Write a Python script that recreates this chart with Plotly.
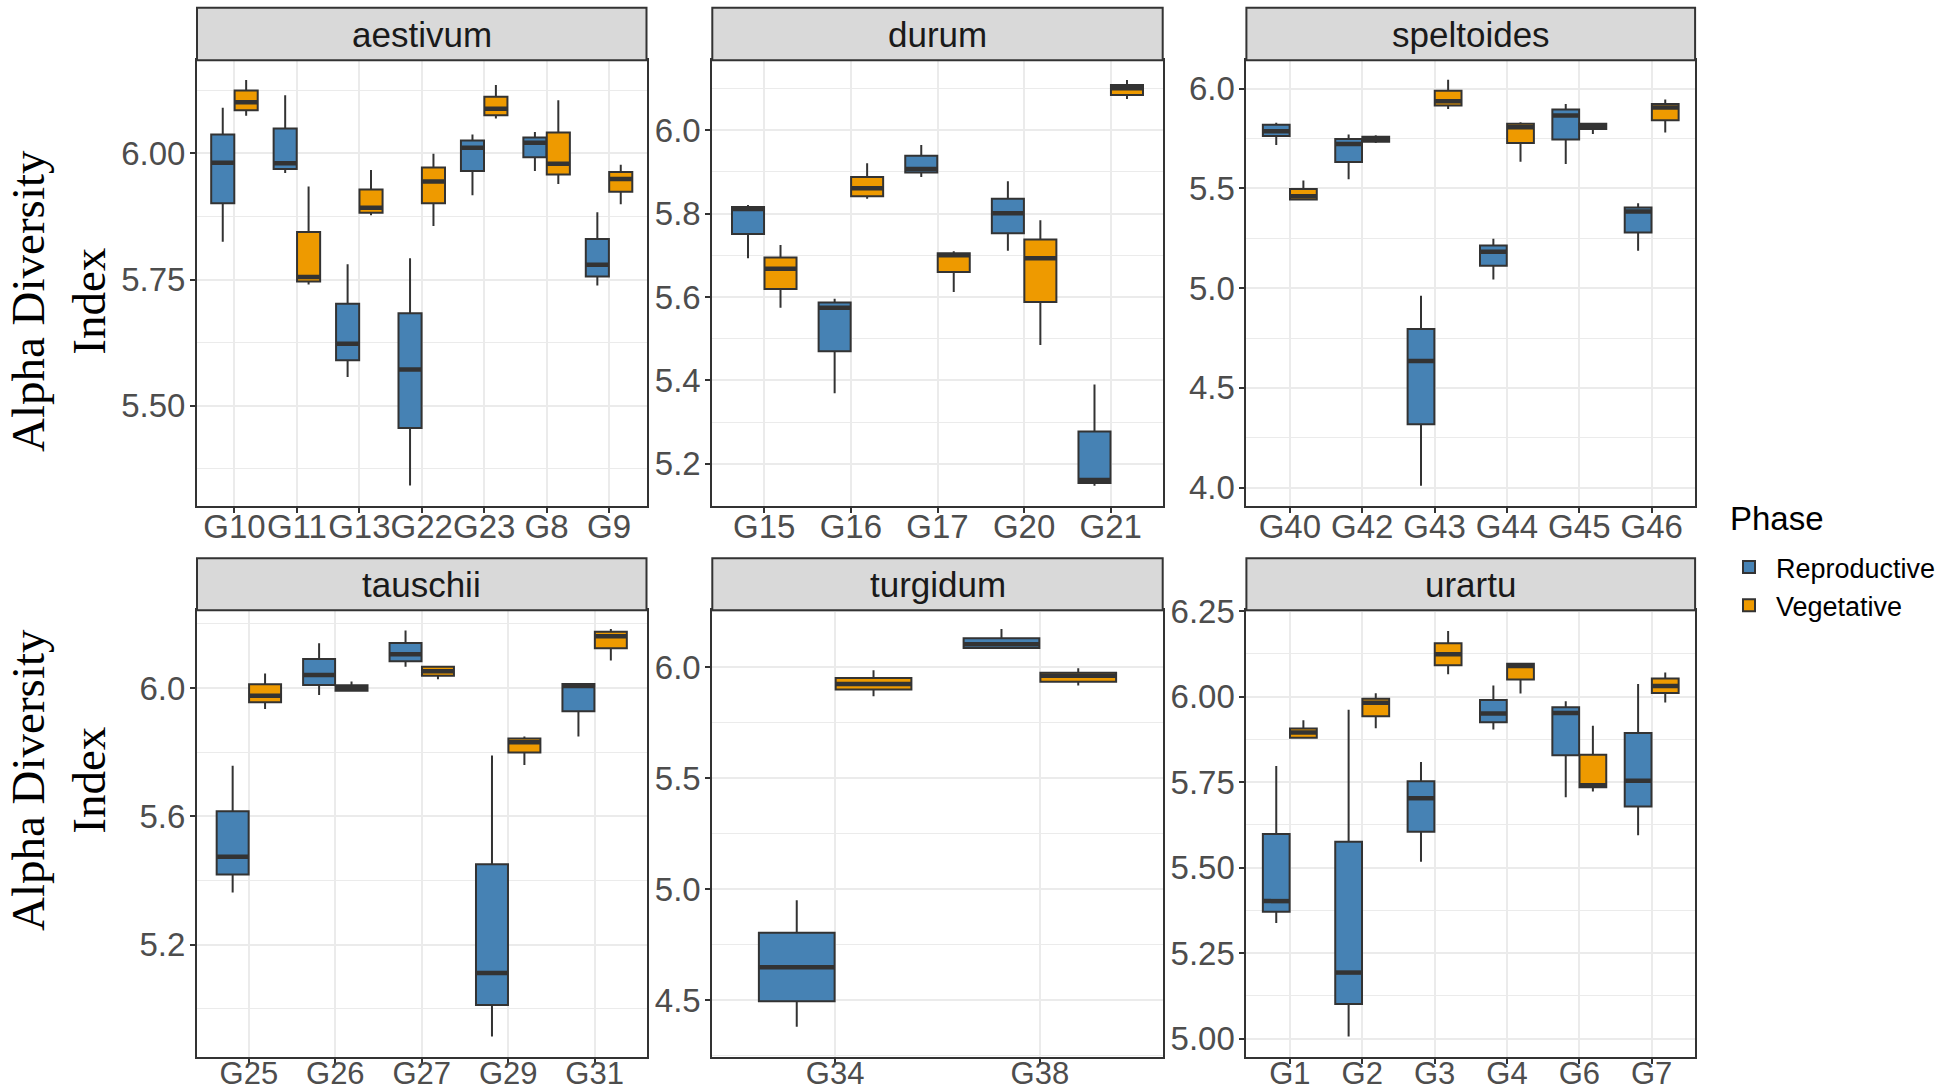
import plotly.graph_objects as go

# ---------------- data (lower whisker, Q1, median, Q3, upper whisker) ----------------
aest_groups = ["G10", "G11", "G13", "G22", "G23", "G8", "G9"]
aest_rep = [[5.825, 5.901, 5.981, 6.037, 6.090],
            [5.961, 5.969, 5.980, 6.049, 6.115],
            [5.557, 5.590, 5.623, 5.702, 5.780],
            [5.342, 5.456, 5.572, 5.683, 5.792],
            [5.917, 5.965, 6.011, 6.025, 6.037],
            [5.965, 5.992, 6.021, 6.031, 6.042],
            [5.738, 5.756, 5.779, 5.830, 5.883]]
aest_veg = [[6.074, 6.085, 6.101, 6.124, 6.145],
            [5.740, 5.746, 5.755, 5.844, 5.934],
            [5.877, 5.882, 5.892, 5.928, 5.967],
            [5.856, 5.901, 5.944, 5.972, 5.999],
            [6.069, 6.075, 6.088, 6.112, 6.135],
            [5.939, 5.958, 5.979, 6.041, 6.105],
            [5.899, 5.924, 5.949, 5.963, 5.977]]

durum_groups = ["G15", "G16", "G17", "G20", "G21"]
durum_rep = [[5.693, 5.751, 5.811, 5.816, 5.821],
             [5.369, 5.470, 5.574, 5.587, 5.596],
             [5.888, 5.899, 5.907, 5.939, 5.965],
             [5.711, 5.753, 5.801, 5.836, 5.878],
             [5.147, 5.154, 5.161, 5.277, 5.390]]
durum_veg = [[5.574, 5.619, 5.668, 5.695, 5.725],
             [5.836, 5.842, 5.861, 5.888, 5.921],
             [5.612, 5.660, 5.700, 5.705, 5.710],
             [5.485, 5.588, 5.693, 5.738, 5.784],
             [6.075, 6.085, 6.101, 6.109, 6.121]]

spelt_groups = ["G40", "G42", "G43", "G44", "G45", "G46"]
spelt_rep = [[5.717, 5.763, 5.787, 5.819, 5.829],
             [5.546, 5.632, 5.722, 5.747, 5.770],
             [4.009, 4.318, 4.635, 4.795, 4.962],
             [5.043, 5.112, 5.182, 5.214, 5.247],
             [5.622, 5.745, 5.865, 5.896, 5.923],
             [5.187, 5.279, 5.384, 5.404, 5.425]]
spelt_veg = [[5.442, 5.444, 5.460, 5.497, 5.539],
             [5.727, 5.734, 5.748, 5.759, 5.766],
             [5.898, 5.916, 5.937, 5.989, 6.044],
             [5.634, 5.727, 5.807, 5.824, 5.831],
             [5.773, 5.798, 5.812, 5.824, 5.826],
             [5.780, 5.842, 5.905, 5.923, 5.945]]

tau_groups = ["G25", "G26", "G27", "G29", "G31"]
tau_rep = [[5.363, 5.419, 5.474, 5.616, 5.758],
           [5.979, 6.010, 6.041, 6.091, 6.140],
           [6.067, 6.084, 6.106, 6.141, 6.180],
           [4.914, 5.012, 5.112, 5.451, 5.790],
           [5.849, 5.928, 6.007, 6.013, 6.014]]
tau_veg = [[5.935, 5.956, 5.976, 6.012, 6.046],
           [5.989, 5.992, 6.001, 6.009, 6.021],
           [6.028, 6.039, 6.053, 6.067, 6.070],
           [5.760, 5.799, 5.831, 5.843, 5.849],
           [6.086, 6.124, 6.162, 6.176, 6.184]]

turg_groups = ["G34", "G38"]
turg_rep = [[4.379, 4.494, 4.648, 4.803, 4.950],
            [6.084, 6.087, 6.103, 6.131, 6.172]]
turg_veg = [[5.869, 5.899, 5.924, 5.951, 5.986],
            [5.918, 5.934, 5.961, 5.975, 5.995]]

urar_groups = ["G1", "G2", "G3", "G4", "G6", "G7"]
urar_rep = [[5.338, 5.371, 5.402, 5.598, 5.797],
            [5.006, 5.101, 5.193, 5.576, 5.962],
            [5.517, 5.605, 5.703, 5.753, 5.809],
            [5.904, 5.925, 5.951, 5.990, 6.033],
            [5.706, 5.829, 5.952, 5.969, 5.987],
            [5.595, 5.679, 5.754, 5.894, 6.037]]
urar_veg = [[5.879, 5.880, 5.895, 5.907, 5.931],
            [5.908, 5.943, 5.982, 5.994, 6.010],
            [6.066, 6.092, 6.124, 6.156, 6.192],
            [6.009, 6.050, 6.090, 6.096, 6.098],
            [5.723, 5.735, 5.741, 5.830, 5.915],
            [5.983, 6.011, 6.031, 6.053, 6.071]]

species = ["aestivum", "durum", "speltoides", "tauschii", "turgidum", "urartu"]
phases = ["Reproductive", "Vegetative"]

# ---------------- styling ----------------
W, H = 1947, 1092
BLUE = "#4682B4"
ORANGE = "#EE9A00"
EDGE = "#333333"
GRID = "#EBEBEB"
TICKC = "#4D4D4D"
BOXW = 0.37
OFF = 0.1875

def fx(px):
    return px / W

def fy(py):
    return 1 - py / H

cols = [(197, 646.5), (712.3, 1162.7), (1246.4, 1695.1)]
rows = [dict(plot=(60.3, 505.8), strip=(7.7, 60.3), title_y=301, xstand=-14, xfs=33),
        dict(plot=(610.2, 1057.0), strip=(558.3, 610.2), title_y=780, xstand=-17, xfs=31)]

panels = [
    dict(groups=aest_groups, rep=aest_rep, veg=aest_veg, yr=[5.302, 6.184], t0=5.5, dt=0.25, fmt=".2f"),
    dict(groups=durum_groups, rep=durum_rep, veg=durum_veg, yr=[5.099, 6.168], t0=5.2, dt=0.2, fmt=".1f"),
    dict(groups=spelt_groups, rep=spelt_rep, veg=spelt_veg, yr=[3.909, 6.142], t0=4.0, dt=0.5, fmt=".1f"),
    dict(groups=tau_groups, rep=tau_rep, veg=tau_veg, yr=[4.850, 6.243], t0=5.2, dt=0.4, fmt=".1f"),
    dict(groups=turg_groups, rep=turg_rep, veg=turg_veg, yr=[4.243, 6.257], t0=4.5, dt=0.5, fmt=".1f"),
    dict(groups=urar_groups, rep=urar_rep, veg=urar_veg, yr=[4.946, 6.253], t0=5.0, dt=0.25, fmt=".2f"),
]

fig = go.Figure()
layout = dict(width=W, height=H, margin=dict(l=0, r=0, t=0, b=0, pad=0),
              paper_bgcolor="white", plot_bgcolor="white",
              font=dict(family="Liberation Sans, Arial", color=TICKC),
              showlegend=True)
shapes, annotations = [], []

for k, p in enumerate(panels):
    r, c = divmod(k, 3)
    sfx = "" if k == 0 else str(k + 1)
    xa, ya = "x" + sfx, "y" + sfx
    n = len(p["groups"])
    pos = list(range(1, n + 1))
    for phase, data, color, off in [(phases[0], p["rep"], BLUE, -OFF),
                                    (phases[1], p["veg"], ORANGE, OFF)]:
        xs = [i + off for i in pos]
        lo = [d[0] for d in data]
        q1 = [d[1] for d in data]
        med = [d[2] for d in data]
        q3 = [d[3] for d in data]
        hi = [d[4] for d in data]
        fig.add_trace(go.Box(
            x=xs, lowerfence=lo, q1=q1, median=med, q3=q3, upperfence=hi,
            width=BOXW, fillcolor=color, line=dict(color=EDGE, width=2),
            whiskerwidth=0, boxpoints=False, name=phase, legendgroup=phase,
            showlegend=(k == 0), xaxis=xa, yaxis=ya, hoverinfo="y"))
        mx, my = [], []
        for x, m in zip(xs, med):
            mx += [x - BOXW / 2, x + BOXW / 2, None]
            my += [m, m, None]
        fig.add_trace(go.Scatter(
            x=mx, y=my, mode="lines", line=dict(color=EDGE, width=4.5),
            showlegend=False, hoverinfo="skip", legendgroup=phase,
            xaxis=xa, yaxis=ya))

    x0, x1 = cols[c]
    py0, py1 = rows[r]["plot"]
    sy0, sy1 = rows[r]["strip"]
    axis_common = dict(showline=True, linecolor=EDGE, linewidth=2, mirror=True,
                       ticks="outside", ticklen=5, tickwidth=2, tickcolor=EDGE,
                       showgrid=True, gridcolor=GRID, gridwidth=2,
                       zeroline=False, fixedrange=True, automargin=False)
    layout["xaxis" + sfx] = dict(domain=[fx(x0), fx(x1)], anchor=ya,
                                 range=[0.4, n + 0.6], tickmode="array",
                                 tickvals=pos, ticktext=p["groups"],
                                 tickangle=0, ticklabelstandoff=rows[r]["xstand"],
                                 tickfont=dict(size=rows[r]["xfs"], color=TICKC,
                                               family="Liberation Sans, Arial"),
                                 **axis_common)
    layout["yaxis" + sfx] = dict(domain=[fy(py1), fy(py0)], anchor=xa,
                                 range=p["yr"], tickmode="linear",
                                 tick0=p["t0"], dtick=p["dt"],
                                 tickformat=p["fmt"], ticklabelstandoff=-2,
                                 tickfont=dict(size=33, color=TICKC,
                                               family="Liberation Sans, Arial"),
                                 minor=dict(tickmode="linear", tick0=p["t0"],
                                            dtick=p["dt"] / 2, showgrid=True,
                                            gridcolor=GRID, gridwidth=1,
                                            ticks=""),
                                 **axis_common)
    shapes.append(dict(type="rect", xref="paper", yref="paper",
                       x0=fx(x0), x1=fx(x1), y0=fy(sy1), y1=fy(sy0),
                       fillcolor="#D9D9D9", line=dict(color=EDGE, width=2)))
    annotations.append(dict(text=species[k], xref="paper", yref="paper",
                            x=fx((x0 + x1) / 2), y=fy((sy0 + sy1) / 2),
                            xanchor="center", yanchor="middle", showarrow=False,
                            font=dict(size=35, color="#1A1A1A",
                                      family="Liberation Sans, Arial")))

for rw in rows:
    annotations.append(dict(text="Alpha Diversity<br>Index", xref="paper",
                            yref="paper", x=fx(58), y=fy(rw["title_y"]),
                            xanchor="center", yanchor="middle", textangle=-90,
                            showarrow=False,
                            font=dict(size=47, color="black",
                                      family="Liberation Serif, Times New Roman")))

annotations.append(dict(text="Phase", xref="paper", yref="paper",
                        x=fx(1728), y=fy(518), xanchor="left", yanchor="middle",
                        showarrow=False,
                        font=dict(size=33, color="black",
                                  family="Liberation Sans, Arial")))

layout["shapes"] = shapes
layout["annotations"] = annotations
layout["legend"] = dict(x=fx(1722), y=fy(543), xanchor="left", yanchor="top",
                        bgcolor="rgba(0,0,0,0)", tracegroupgap=0, itemwidth=44,
                        font=dict(size=27, color="black"))
fig.update_layout(**layout)
fig.write_html("out.html", config={"displayModeBar": False},
               post_script="document.body.style.margin='0px';document.body.style.overflow='hidden';")
